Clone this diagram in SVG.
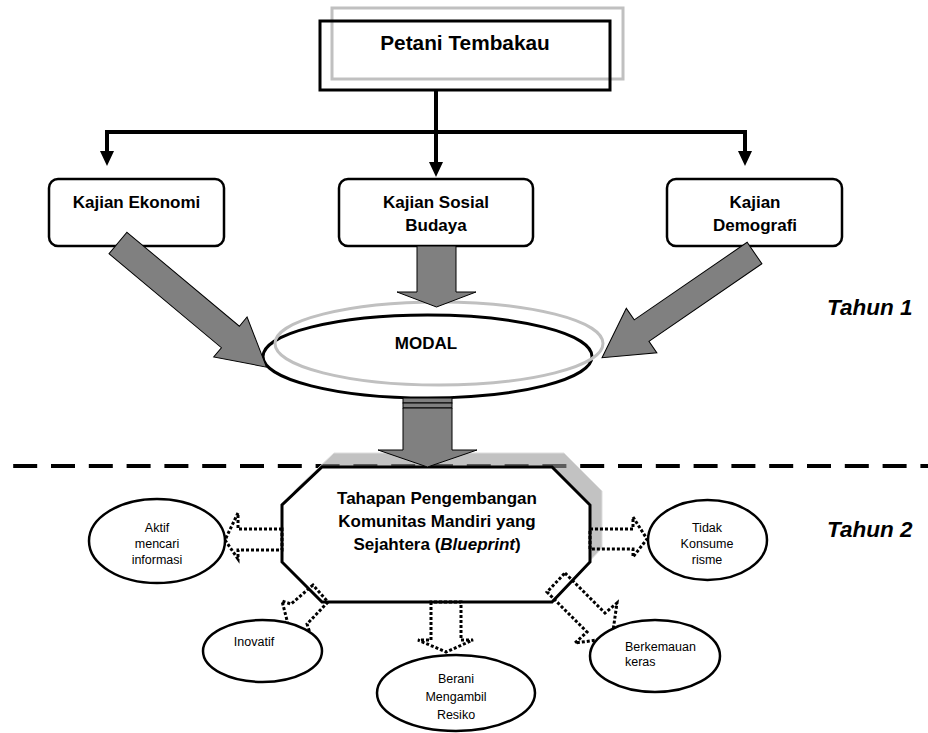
<svg xmlns="http://www.w3.org/2000/svg" width="928" height="733" viewBox="0 0 928 733">
<style>
  text { font-family: "Liberation Sans", Arial, sans-serif; fill: #000; }
  .b { font-weight: bold; font-size: 17px; text-anchor: middle; }
  .s { font-size: 12.5px; text-anchor: middle; }
  .st { font-size: 12.5px; text-anchor: start; }
  .box { fill: #fff; stroke: #000; stroke-width: 2.5; }
  .ell { fill: #fff; stroke: #000; stroke-width: 2.5; }
  .garrow { fill: #808080; stroke: #000; stroke-width: 1; }
  .darrow { fill: none; stroke: #000; stroke-width: 3; stroke-dasharray: 3 2; }
  .conn { fill: none; stroke: #000; stroke-width: 4; }
  .tahun { font-weight: bold; font-style: italic; font-size: 22.5px; }
</style>

<!-- dashed year separator -->
<path d="M-24.6,466 L928,466" fill="none" stroke="#000" stroke-width="4" stroke-dasharray="24 13.8"/>

<!-- top node -->
<g id="petani">
  <rect x="332" y="8" width="291" height="71" fill="none" stroke="#c0c0c0" stroke-width="3"/>
  <rect x="320" y="21" width="290" height="69" fill="none" stroke="#000" stroke-width="3"/>
  <text x="465" y="50" class="b" style="font-size:20.8px">Petani Tembakau</text>
</g>

<!-- connectors -->
<g id="connectors">
  <path class="conn" d="M436,90 L436,164"/>
  <path class="conn" d="M107,152 L107,132 L745,132 L745,152"/>
  <polygon points="100,151 114,151 107,166" fill="#000"/>
  <polygon points="429,162 443,162 436,177" fill="#000"/>
  <polygon points="738,151 752,151 745,166" fill="#000"/>
</g>

<g id="ekonomi">
  <rect class="box" x="49" y="179" width="175" height="67" rx="9"/>
  <text x="136.5" y="208" class="b">Kajian Ekonomi</text>
</g>
<g id="sosial">
  <rect class="box" x="339" y="179" width="194" height="67" rx="9"/>
  <text x="436" y="208" class="b">Kajian Sosial</text>
  <text x="436" y="231" class="b">Budaya</text>
</g>
<g id="demografi">
  <rect class="box" x="667" y="179" width="175" height="67" rx="9"/>
  <text x="755" y="208" class="b">Kajian</text>
  <text x="755" y="231" class="b">Demografi</text>
</g>

<!-- MODAL -->
<g id="modal">
  <ellipse cx="427.5" cy="356.5" rx="164.5" ry="41.5" fill="#fff" stroke="#000" stroke-width="3"/>
  <ellipse cx="439" cy="343.5" rx="164" ry="41.5" fill="none" stroke="#c0c0c0" stroke-width="3"/>
  <text x="426" y="349" class="b">MODAL</text>
</g>

<!-- big gray arrows -->
<g id="gray-arrows">
  <path class="garrow" transform="translate(118,243) rotate(39.9)" d="M0,-14 L146.5,-14 L146.5,-26 L193.5,0 L146.5,26 L146.5,14 L0,14 Z"/>
  <path class="garrow" transform="translate(754.5,253) rotate(145.5)" d="M0,-13 L137,-13 L137,-27 L185,0 L137,27 L137,13 L0,13 Z"/>
  <path class="garrow" d="M417,246 L417,292 L397,292 L436.5,307 L476,292 L456,292 L456,246 Z"/>
</g>

<!-- octagon shadow -->
<polygon points="334,453 564,453 602,491 602,548 564,588 334,588 294,548 294,491" fill="#999" fill-opacity="0.6" stroke="#ddd" stroke-width="1"/>

<!-- connector MODAL -> blueprint -->
<g id="modal-arrow">
  <rect x="403" y="398" width="49" height="5" fill="#808080" stroke="#000" stroke-width="1"/>
  <rect x="403" y="403" width="49" height="5" fill="#808080" stroke="#000" stroke-width="1"/>
</g>

<g id="blueprint">
  <polygon points="322,467 552,467 590,505 590,562 552,602 322,602 282,562 282,505" fill="#fff" stroke="#000" stroke-width="3"/>
  <text x="437" y="504" class="b">Tahapan Pengembangan</text>
  <text x="437" y="527" class="b">Komunitas Mandiri yang</text>
  <text x="437" y="550" class="b">Sejahtera (<tspan font-style="italic">Blueprint</tspan>)</text>
</g>

<path class="garrow" d="M403,408 L403,450 L378,450 L427.5,467 L477,450 L452,450 L452,408 Z"/>

<!-- dotted arrows -->
<g id="dotted-arrows">
  <path class="darrow" d="M282,529 L238,529 L238,513 L225,540 L238,559 L238,550 L282,550 Z"/>
  <path class="darrow" d="M590,529 L633,529 L633,517 L647,539 L633,557 L633,549 L590,549 Z"/>
  <path class="darrow" d="M431,602 L431,640 L418,640 L446,652 L473,640 L461,640 L461,602 Z"/>
  <path class="darrow" d="M565,573 L605,613 L617,603 L612,638 L575,643 L587,632 L547,592 Z"/>
  <path class="darrow" d="M313,585 L291,604 L282,601 L289,628 L310,633 L307,624 L328,602 Z"/>
</g>

<g id="aktif">
  <ellipse class="ell" cx="157" cy="541" rx="68" ry="42"/>
  <text x="157" y="532" class="s">Aktif</text>
  <text x="157" y="548" class="s">mencari</text>
  <text x="157" y="564" class="s">informasi</text>
</g>
<g id="tidak">
  <ellipse class="ell" cx="707.5" cy="540" rx="59.5" ry="40"/>
  <text x="707" y="532" class="s">Tidak</text>
  <text x="707" y="548" class="s">Konsume</text>
  <text x="707" y="564" class="s">risme</text>
</g>
<g id="inovatif">
  <ellipse class="ell" cx="262.5" cy="651" rx="59.5" ry="31"/>
  <text x="254" y="646" class="s">Inovatif</text>
</g>
<g id="berani">
  <ellipse class="ell" cx="456" cy="693" rx="79" ry="38"/>
  <text x="456" y="683" class="s">Berani</text>
  <text x="456" y="701" class="s">Mengambil</text>
  <text x="456" y="719" class="s">Resiko</text>
</g>
<g id="berkemauan">
  <ellipse class="ell" cx="655" cy="656" rx="65" ry="36"/>
  <text x="625" y="651" class="st">Berkemauan</text>
  <text x="625" y="666" class="st">keras</text>
</g>

<text x="827" y="315" class="tahun">Tahun 1</text>
<text x="827" y="537" class="tahun">Tahun 2</text>
</svg>
